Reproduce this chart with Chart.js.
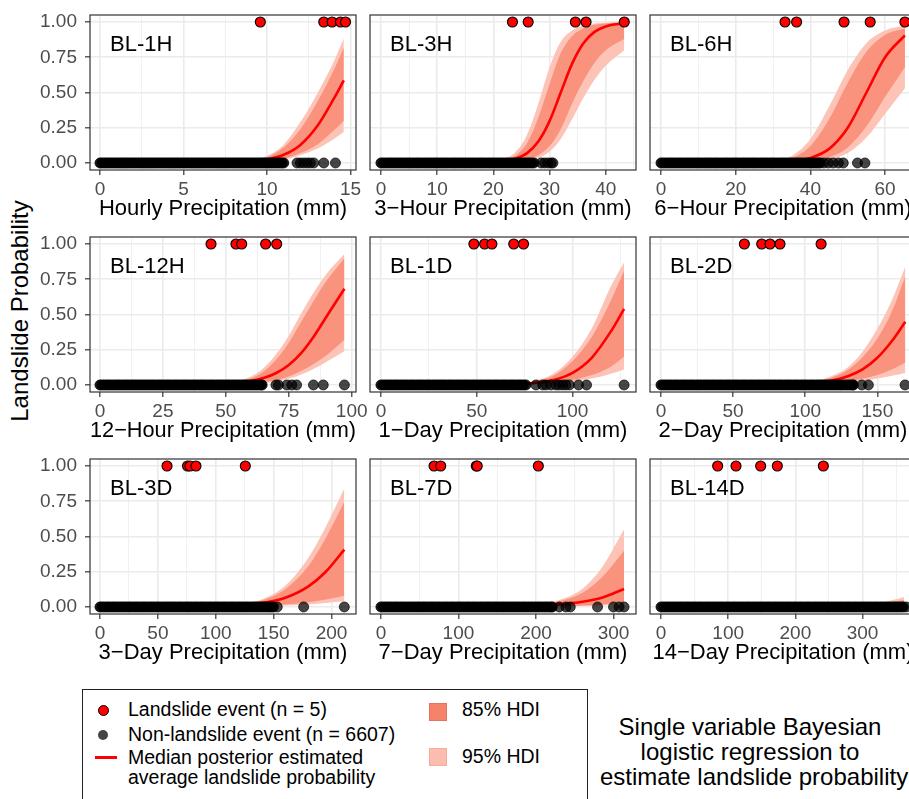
<!DOCTYPE html>
<html><head><meta charset="utf-8">
<script src="https://cdn.jsdelivr.net/npm/chart.js@4.4.0/dist/chart.umd.min.js"></script>
<style>
html,body{margin:0;padding:0;background:#fff;}
body{width:909px;height:799px;overflow:hidden;position:relative;font-family:"Liberation Sans",Arial,sans-serif;}
canvas{position:absolute;}
.t{position:absolute;white-space:nowrap;color:#000;}
.lg{font-size:19.5px;line-height:19.5px;}
</style></head><body>
<div class="t" style="left:20px;top:311px;transform:translate(-50%,-50%) rotate(-90deg);font-size:24px;line-height:24px;">Landslide Probability</div>
<div style="position:absolute;left:82px;top:689px;width:506px;height:140px;border:1.3px solid #222;box-sizing:border-box;"></div>
<div style="position:absolute;left:98px;top:705px;width:11px;height:11px;border-radius:50%;background:#ff0000;border:1px solid #000;box-sizing:border-box;"></div>
<div style="position:absolute;left:98px;top:730px;width:10px;height:10px;border-radius:50%;background:#454545;"></div>
<div style="position:absolute;left:95px;top:756px;width:22px;height:2.5px;background:#ff0000;"></div>
<div class="t lg" style="left:128px;top:699.5px;">Landslide event (n = 5)</div>
<div class="t lg" style="left:128px;top:724.5px;">Non-landslide event (n = 6607)</div>
<div class="t lg" style="left:128px;top:747.5px;">Median posterior estimated</div>
<div class="t lg" style="left:128px;top:767.5px;">average landslide probability</div>
<div style="position:absolute;left:429px;top:703px;width:18px;height:18px;background:#F5836C;border:1px solid #E07560;box-sizing:border-box;"></div>
<div style="position:absolute;left:429px;top:748px;width:18px;height:18px;background:#FCBCB0;border:1px solid #F2ACA0;box-sizing:border-box;"></div>
<div class="t lg" style="left:462px;top:700px;">85% HDI</div>
<div class="t lg" style="left:462px;top:746.5px;">95% HDI</div>
<div class="t" style="left:600px;top:714px;width:300px;text-align:center;font-size:24px;line-height:25px;">Single variable Bayesian<br>logistic regression to<br>estimate landslide probability</div>
<script>
// ---------- DATA ----------
const panelNames = ['BL-1H','BL-3H','BL-6H','BL-12H','BL-1D','BL-2D','BL-3D','BL-7D','BL-14D'];
const xTitles = ['Hourly Precipitation (mm)','3\u2212Hour Precipitation (mm)','6\u2212Hour Precipitation (mm)',
  '12\u2212Hour Precipitation (mm)','1\u2212Day Precipitation (mm)','2\u2212Day Precipitation (mm)',
  '3\u2212Day Precipitation (mm)','7\u2212Day Precipitation (mm)','14\u2212Day Precipitation (mm)'];
const xMin = [-0.6,-1.95,-2.95,-3.97,-5.72,-7.63,-8.64,-14.1,-16.4];
const xMax = [15.33,45.39,68.27,101.7,133.1,176.8,221.1,329,379.5];
const xMajor = [5,10,20,25,50,50,50,100,100];
const xTicks = [
  [0,2.5,5,7.5,10,12.5,15],
  [0,5,10,15,20,25,30,35,40,45],
  [0,10,20,30,40,50,60],
  [0,12.5,25,37.5,50,62.5,75,87.5,100],
  [0,25,50,75,100,125],
  [0,25,50,75,100,125,150,175],
  [0,25,50,75,100,125,150,175,200],
  [0,50,100,150,200,250,300],
  [0,50,100,150,200,250,300,350]
];
const yTicks = [0,0.25,0.5,0.75,1];

// BL-1H
const slide_1H = [9.6,13.4,13.9,14.4,14.7];
const denseNon_1H = [0,0.125,0.25,0.375,0.5,0.625,0.75,0.875,1,1.125,1.25,1.375,1.5,1.625,1.75,1.875,2,2.125,2.25,2.375,2.5,2.625,2.75,2.875,3,3.125,3.25,3.375,3.5,3.625,3.75,3.875,4,4.125,4.25,4.375,4.5,4.625,4.75,4.875,5,5.125,5.25,5.375,5.5,5.625,5.75,5.875,6,6.125,6.25,6.375,6.5,6.625,6.75,6.875,7,7.125,7.25,7.375,7.5,7.625,7.75,7.875,8,8.125,8.25,8.375,8.5,8.625,8.75,8.875,9,9.125,9.25,9.375,9.5,9.625,9.75,9.875,10,10.125,10.25,10.375,10.5,10.625,10.75,10.875,11];
const sparseNon_1H = [11.8,12,12.2,12.4,12.6,12.8,13.4,14.1];
const curveX_1H = [0,8,9,10,11,12,13,14,14.6];
const med_1H  = [0,0.005,0.011,0.025,0.058,0.128,0.26,0.456,0.586];
const hi85_1H = [0,0.006,0.016,0.04,0.11,0.24,0.43,0.66,0.82];
const lo85_1H = [0,0.002,0.006,0.015,0.03,0.07,0.13,0.23,0.30];
const hi95_1H = [0,0.008,0.02,0.05,0.13,0.29,0.49,0.72,0.885];
const lo95_1H = [0,0.001,0.004,0.01,0.022,0.055,0.10,0.17,0.22];

// BL-3H
const slide_3H = [23.4,26.2,34.6,36.5,43.3];
const denseNon_3H = [0,0.4,0.8,1.2,1.6,2,2.4,2.8,3.2,3.6,4,4.4,4.8,5.2,5.6,6,6.4,6.8,7.2,7.6,8,8.4,8.8,9.2,9.6,10,10.4,10.8,11.2,11.6,12,12.4,12.8,13.2,13.6,14,14.4,14.8,15.2,15.6,16,16.4,16.8,17.2,17.6,18,18.4,18.8,19.2,19.6,20,20.4,20.8,21.2,21.6,22,22.4,22.8,23.2,23.6,24,24.4,24.8,25.2,25.6,26,26.4,26.8,27.2];
const sparseNon_3H = [28.5,29.1,29.7,30.3,30.6];
const curveX_3H = [0,20,22,24,26,28,30,32,34,36,38,40,43.3];
const med_3H  = [0,0.006,0.013,0.031,0.07,0.152,0.297,0.5,0.703,0.848,0.93,0.969,0.992];
const hi85_3H = [0,0.008,0.02,0.055,0.14,0.32,0.56,0.78,0.9,0.955,0.98,0.99,0.998];
const lo85_3H = [0,0.002,0.005,0.01,0.025,0.055,0.12,0.24,0.42,0.58,0.71,0.8,0.88];
const hi95_3H = [0,0.01,0.03,0.08,0.2,0.42,0.68,0.86,0.94,0.975,0.99,0.995,1.0];
const lo95_3H = [0,0.001,0.003,0.007,0.016,0.035,0.08,0.17,0.31,0.46,0.59,0.69,0.8];

// BL-6H
const slide_6H = [33.2,36.3,49,56,65.3];
const denseNon_6H = [0,0.6,1.2,1.8,2.4,3,3.6,4.2,4.8,5.4,6,6.6,7.2,7.8,8.4,9,9.6,10.2,10.8,11.4,12,12.6,13.2,13.8,14.4,15,15.6,16.2,16.8,17.4,18,18.6,19.2,19.8,20.4,21,21.6,22.2,22.8,23.4,24,24.6,25.2,25.8,26.4,27,27.6,28.2,28.8,29.4,30,30.6,31.2,31.8,32.4,33,33.6,34.2,34.8,35.4,36,36.6,37.2,37.8,38.4,39,39.6,40.2,40.8,41.4,42,42.6];
const sparseNon_6H = [43.6,44.8,46.1,47.5,48.8,52.6,54.6];
const curveX_6H = [0,25,30,35,40,45,50,55,60,65.3];
const med_6H  = [0,0.001,0.004,0.012,0.036,0.1,0.25,0.5,0.75,0.906];
const hi85_6H = [0,0.002,0.008,0.033,0.12,0.31,0.57,0.79,0.91,0.955];
const lo85_6H = [0,0,0.001,0.004,0.012,0.04,0.11,0.26,0.47,0.68];
const hi95_6H = [0,0.003,0.012,0.05,0.17,0.4,0.66,0.85,0.94,0.975];
const lo95_6H = [0,0,0,0.002,0.007,0.025,0.07,0.18,0.35,0.53];

// BL-12H
const slide_12H = [44.1,54,56.3,65.8,70.2];
const denseNon_12H = [0,0.9,1.8,2.7,3.6,4.5,5.4,6.3,7.2,8.1,9,9.9,10.8,11.7,12.6,13.5,14.4,15.3,16.2,17.1,18,18.9,19.8,20.7,21.6,22.5,23.4,24.3,25.2,26.1,27,27.9,28.8,29.7,30.6,31.5,32.4,33.3,34.2,35.1,36,36.9,37.8,38.7,39.6,40.5,41.4,42.3,43.2,44.1,45,45.9,46.8,47.7,48.6,49.5,50.4,51.3,52.2,53.1,54,54.9,55.8,56.7,57.6,58.5,59.4,60.3,61.2,62.1,63,63.9,64.4];
const sparseNon_12H = [69.9,70.9,74.2,76.2,78.1,84.8,88.7,97.1];
const curveX_12H = [0,40,50,60,65,70,75,80,85,90,97.1];
const med_12H  = [0,0.003,0.009,0.028,0.049,0.085,0.142,0.228,0.346,0.486,0.683];
const hi85_12H = [0,0.004,0.012,0.047,0.095,0.18,0.3,0.45,0.6,0.74,0.9];
const lo85_12H = [0,0.001,0.004,0.012,0.02,0.035,0.06,0.1,0.15,0.21,0.32];
const hi95_12H = [0,0.005,0.015,0.06,0.12,0.22,0.35,0.51,0.66,0.79,0.93];
const lo95_12H = [0,0,0.002,0.008,0.014,0.025,0.045,0.075,0.115,0.165,0.24];

// BL-1D
const slide_1D = [48.5,54.1,57.9,69.3,74.4];
const denseNon_1D = [0,1.2,2.4,3.6,4.8,6,7.2,8.4,9.6,10.8,12,13.2,14.4,15.6,16.8,18,19.2,20.4,21.6,22.8,24,25.2,26.4,27.6,28.8,30,31.2,32.4,33.6,34.8,36,37.2,38.4,39.6,40.8,42,43.2,44.4,45.6,46.8,48,49.2,50.4,51.6,52.8,54,55.2,56.4,57.6,58.8,60,61.2,62.4,63.6,64.8,66,67.2,68.4,69.6,70.8,72,73.2,74.4,75.6];
const sparseNon_1D = [80.9,84.4,86.2,88.7,91.3,93,94.8,96.5,98.3,103.1,107.3,126.9];
const curveX_1D = [0,60,70,80,90,100,110,120,126.9];
const med_1D  = [0,0.002,0.006,0.014,0.035,0.086,0.193,0.38,0.54];
const hi85_1D = [0,0.003,0.008,0.025,0.065,0.17,0.34,0.6,0.81];
const lo85_1D = [0,0.001,0.002,0.006,0.015,0.035,0.07,0.13,0.2];
const hi95_1D = [0,0.004,0.01,0.03,0.08,0.2,0.4,0.7,0.87];
const lo95_1D = [0,0,0.001,0.004,0.01,0.025,0.045,0.08,0.11];

// BL-2D
const slide_2D = [57.8,69.8,75.6,82.5,111];
const denseNon_2D = [0,1.6,3.2,4.8,6.4,8,9.6,11.2,12.8,14.4,16,17.6,19.2,20.8,22.4,24,25.6,27.2,28.8,30.4,32,33.6,35.2,36.8,38.4,40,41.6,43.2,44.8,46.4,48,49.6,51.2,52.8,54.4,56,57.6,59.2,60.8,62.4,64,65.6,67.2,68.8,70.4,72,73.6,75.2,76.8,78.4,80,81.6,83.2,84.8,86.4,88,89.6,91.2,92.8,94.4,96,97.6,99.2,100.8,102.4,104,105.6,107.2,108.8,110.4,112,113.6,115.2,116.8,118.4,120,121.6,123.2,124.8,126.4,128,129.6,131.2,132.8,133.4];
const sparseNon_2D = [139.2,143.8,169.2];
const curveX_2D = [0,80,95,110,120,130,140,150,160,169.4];
const med_2D  = [0,0.003,0.007,0.019,0.035,0.064,0.113,0.193,0.31,0.448];
const hi85_2D = [0,0.004,0.01,0.03,0.058,0.11,0.2,0.33,0.52,0.77];
const lo85_2D = [0,0.001,0.003,0.008,0.014,0.025,0.045,0.07,0.11,0.16];
const hi95_2D = [0,0.005,0.012,0.035,0.07,0.13,0.24,0.4,0.6,0.84];
const lo95_2D = [0,0,0.002,0.005,0.009,0.016,0.028,0.045,0.065,0.085];

// BL-3D
const slide_3D = [57.9,75.6,77.7,82.9,125.5];
const denseNon_3D = [0,2,4,6,8,10,12,14,16,18,20,22,24,26,28,30,32,34,36,38,40,42,44,46,48,50,52,54,56,58,60,62,64,66,68,70,72,74,76,78,80,82,84,86,88,90,92,94,96,98,100,102,104,106,108,110,112,114,116,118,120,122,124,126,128,130,132,134,136,138,140,142,144,146,148,149.7];
const sparseNon_3D = [153.1,175.9,211];
const curveX_3D = [0,100,120,140,160,180,195,211];
const med_3D  = [0,0.005,0.011,0.027,0.065,0.146,0.25,0.407];
const hi85_3D = [0,0.007,0.017,0.045,0.125,0.29,0.49,0.745];
const lo85_3D = [0,0.001,0.003,0.008,0.018,0.033,0.053,0.08];
const hi95_3D = [0,0.008,0.02,0.055,0.15,0.35,0.57,0.84];
const lo95_3D = [0,0,0.002,0.005,0.01,0.018,0.028,0.04];

// BL-7D
const slide_7D = [68.5,77.1,123,124.2,203];
const denseNon_7D = [0,3,6,9,12,15,18,21,24,27,30,33,36,39,42,45,48,51,54,57,60,63,66,69,72,75,78,81,84,87,90,93,96,99,102,105,108,111,114,117,120,123,126,129,132,135,138,141,144,147,150,153,156,159,162,165,168,171,174,177,180,183,186,189,192,195,198,201,204,207,210,213,216,219,221];
const sparseNon_7D = [230,238.7,244.2,279.4,300,307.2,313.6];
const curveX_7D = [0,150,200,230,260,285,313.6];
const med_7D  = [0,0.002,0.008,0.018,0.037,0.066,0.127];
const hi85_7D = [0,0.003,0.016,0.04,0.1,0.21,0.4];
const lo85_7D = [0,0.001,0.003,0.005,0.01,0.018,0.035];
const hi95_7D = [0,0.004,0.02,0.05,0.13,0.28,0.55];
const lo95_7D = [0,0,0.002,0.003,0.006,0.01,0.02];

// BL-14D
const slide_14D = [84.3,111.6,148.3,173.1,241.6];
const denseNon_14D = [0,3.5,7,10.5,14,17.5,21,24.5,28,31.5,35,38.5,42,45.5,49,52.5,56,59.5,63,66.5,70,73.5,77,80.5,84,87.5,91,94.5,98,101.5,105,108.5,112,115.5,119,122.5,126,129.5,133,136.5,140,143.5,147,150.5,154,157.5,161,164.5,168,171.5,175,178.5,182,185.5,189,192.5,196,199.5,203,206.5,210,213.5,217,220.5,224,227.5,231,234.5,238,241.5,245,248.5,252,255.5,259,262.5,266,269.5,273,276.5,280,283.5,287,290.5,294,297.5,301,304.5,308,311.5,315,318.5,322,325.5,329,332.5,336,339.5,343,346.5,350,353.5,357,360.5];
const sparseNon_14D = [365];
const curveX_14D = [0,250,300,330,362];
const med_14D  = [0,0.002,0.006,0.011,0.02];
const hi85_14D = [0,0.003,0.011,0.024,0.05];
const lo85_14D = [0,0.001,0.002,0.004,0.007];
const hi95_14D = [0,0.004,0.015,0.032,0.07];
const lo95_14D = [0,0,0.001,0.002,0.004];

const slides = [slide_1H,slide_3H,slide_6H,slide_12H,slide_1D,slide_2D,slide_3D,slide_7D,slide_14D];
const denseNons = [denseNon_1H,denseNon_3H,denseNon_6H,denseNon_12H,denseNon_1D,denseNon_2D,denseNon_3D,denseNon_7D,denseNon_14D];
const sparseNons = [sparseNon_1H,sparseNon_3H,sparseNon_6H,sparseNon_12H,sparseNon_1D,sparseNon_2D,sparseNon_3D,sparseNon_7D,sparseNon_14D];
const curveXs = [curveX_1H,curveX_3H,curveX_6H,curveX_12H,curveX_1D,curveX_2D,curveX_3D,curveX_7D,curveX_14D];
const meds = [med_1H,med_3H,med_6H,med_12H,med_1D,med_2D,med_3D,med_7D,med_14D];
const hi85s = [hi85_1H,hi85_3H,hi85_6H,hi85_12H,hi85_1D,hi85_2D,hi85_3D,hi85_7D,hi85_14D];
const lo85s = [lo85_1H,lo85_3H,lo85_6H,lo85_12H,lo85_1D,lo85_2D,lo85_3D,lo85_7D,lo85_14D];
const hi95s = [hi95_1H,hi95_3H,hi95_6H,hi95_12H,hi95_1D,hi95_2D,hi95_3D,hi95_7D,hi95_14D];
const lo95s = [lo95_1H,lo95_3H,lo95_6H,lo95_12H,lo95_1D,lo95_2D,lo95_3D,lo95_7D,lo95_14D];

// ---------- DRAWING ----------
Chart.defaults.font.family = '"Liberation Sans", Arial, sans-serif';
Chart.defaults.font.size = 19;

const panelDeco = {
  id: 'panelDeco',
  afterDraw(chart, args, opts) {
    const {ctx, chartArea: a} = chart;
    ctx.save();
    ctx.strokeStyle = '#333333'; ctx.lineWidth = 1.2;
    ctx.strokeRect(a.left, a.top, a.right - a.left, a.bottom - a.top);
    ctx.fillStyle = '#000'; ctx.font = '22px "Liberation Sans", Arial, sans-serif';
    ctx.textBaseline = 'alphabetic'; ctx.textAlign = 'left';
    ctx.fillText(opts.text, a.left + 20, a.top + 35.5);
    ctx.restore();
  }
};

const colL = [90, 370, 650], rowT = [15, 237, 459];
const PW = 266, PH = 155, PAD_T = 16, PAD_R = 20, XH = 52;
const pts = (xs, y) => xs.map(x => ({x: x, y: y}));
const crv = (xs, ys) => xs.map((x, k) => ({x: x, y: ys[k]}));
const NONE = 'rgba(0,0,0,0)';

for (let i = 0; i < 9; i++) {
  const col = i % 3, row = Math.floor(i / 3);
  const leftSpace = col === 0 ? 90 : 12;
  const cv = document.createElement('canvas');
  cv.width = leftSpace + PW + PAD_R;
  cv.height = PAD_T + PH + XH;
  cv.style.left = (colL[col] - leftSpace) + 'px';
  cv.style.top = (rowT[row] - PAD_T) + 'px';
  document.body.appendChild(cv);
  const major = xMajor[i];
  const isMajor = v => Math.abs(v / major - Math.round(v / major)) < 1e-9;
  const cx = curveXs[i];
  new Chart(cv, {
    type: 'line',
    data: {
      datasets: [
        {data: pts(slides[i], 1), showLine: false, pointRadius: 5, pointBackgroundColor: '#FF0000', pointBorderColor: '#000', pointBorderWidth: 1.1, order: 0},
        {data: pts(sparseNons[i], 0), showLine: false, pointRadius: 5, pointBackgroundColor: 'rgba(0,0,0,0.72)', pointBorderColor: 'rgba(0,0,0,0.85)', pointBorderWidth: 0.8, order: 1},
        {data: crv(cx, meds[i]), borderColor: '#FF0000', borderWidth: 2.6, pointRadius: 0, cubicInterpolationMode: 'monotone', fill: false, order: 2},
        {data: crv(cx, hi85s[i]), borderColor: NONE, borderWidth: 0.01, pointRadius: 0, cubicInterpolationMode: 'monotone', fill: 4, backgroundColor: '#F9937E', order: 3},
        {data: crv(cx, lo85s[i]), borderColor: NONE, borderWidth: 0.01, pointRadius: 0, cubicInterpolationMode: 'monotone', fill: false, order: 3},
        {data: crv(cx, hi95s[i]), borderColor: NONE, borderWidth: 0.01, pointRadius: 0, cubicInterpolationMode: 'monotone', fill: 6, backgroundColor: '#FDC3B6', order: 4},
        {data: crv(cx, lo95s[i]), borderColor: NONE, borderWidth: 0.01, pointRadius: 0, cubicInterpolationMode: 'monotone', fill: false, order: 4},
        {data: pts(denseNons[i], 0), showLine: false, pointRadius: 5, pointBackgroundColor: 'rgba(0,0,0,0.9)', pointBorderColor: '#000', pointBorderWidth: 0.8, order: 1}
      ]
    },
    options: {
      responsive: false, animation: false, events: [],
      layout: {padding: {left: col === 0 ? 0 : 12, right: PAD_R, top: PAD_T, bottom: 0}},
      plugins: {legend: {display: false}, tooltip: {enabled: false}, panelDeco: {text: panelNames[i]}},
      scales: {
        x: {
          type: 'linear', min: xMin[i], max: xMax[i],
          afterBuildTicks: s => { s.ticks = xTicks[i].map(v => ({value: v})); },
          afterFit: s => { s.height = XH; s.paddingLeft = 0; s.paddingRight = 0; },
          ticks: {autoSkip: false, maxRotation: 0, minRotation: 0, padding: 3, color: '#4D4D4D', font: {size: 19},
                  callback: v => isMajor(v) ? String(v) : ''},
          grid: {
            color: c => (c.tick && isMajor(c.tick.value)) ? '#EBEBEB' : '#F1F1F1',
            lineWidth: c => (c.tick && isMajor(c.tick.value)) ? 1.6 : 1.0,
            tickLength: 5, tickWidth: 1.2,
            tickColor: c => (c.tick && isMajor(c.tick.value)) ? '#333333' : NONE
          },
          border: {display: false},
          title: {display: true, text: xTitles[i], color: '#000', font: {size: 22}, padding: {top: 0, bottom: 0}}
        },
        y: {
          type: 'linear', min: -0.05, max: 1.05,
          afterBuildTicks: s => { s.ticks = yTicks.map(v => ({value: v})); },
          afterFit: s => { s.width = col === 0 ? 90 : 0; s.paddingTop = 0; s.paddingBottom = 0; },
          ticks: {display: col === 0, padding: 8, color: '#4D4D4D', font: {size: 19}, callback: v => v.toFixed(2)},
          grid: {color: '#EBEBEB', lineWidth: 1.6, drawTicks: col === 0, tickLength: 5, tickWidth: 1.2, tickColor: '#333333'},
          border: {display: false}
        }
      }
    },
    plugins: [panelDeco]
  });
}
</script>
</body></html>
